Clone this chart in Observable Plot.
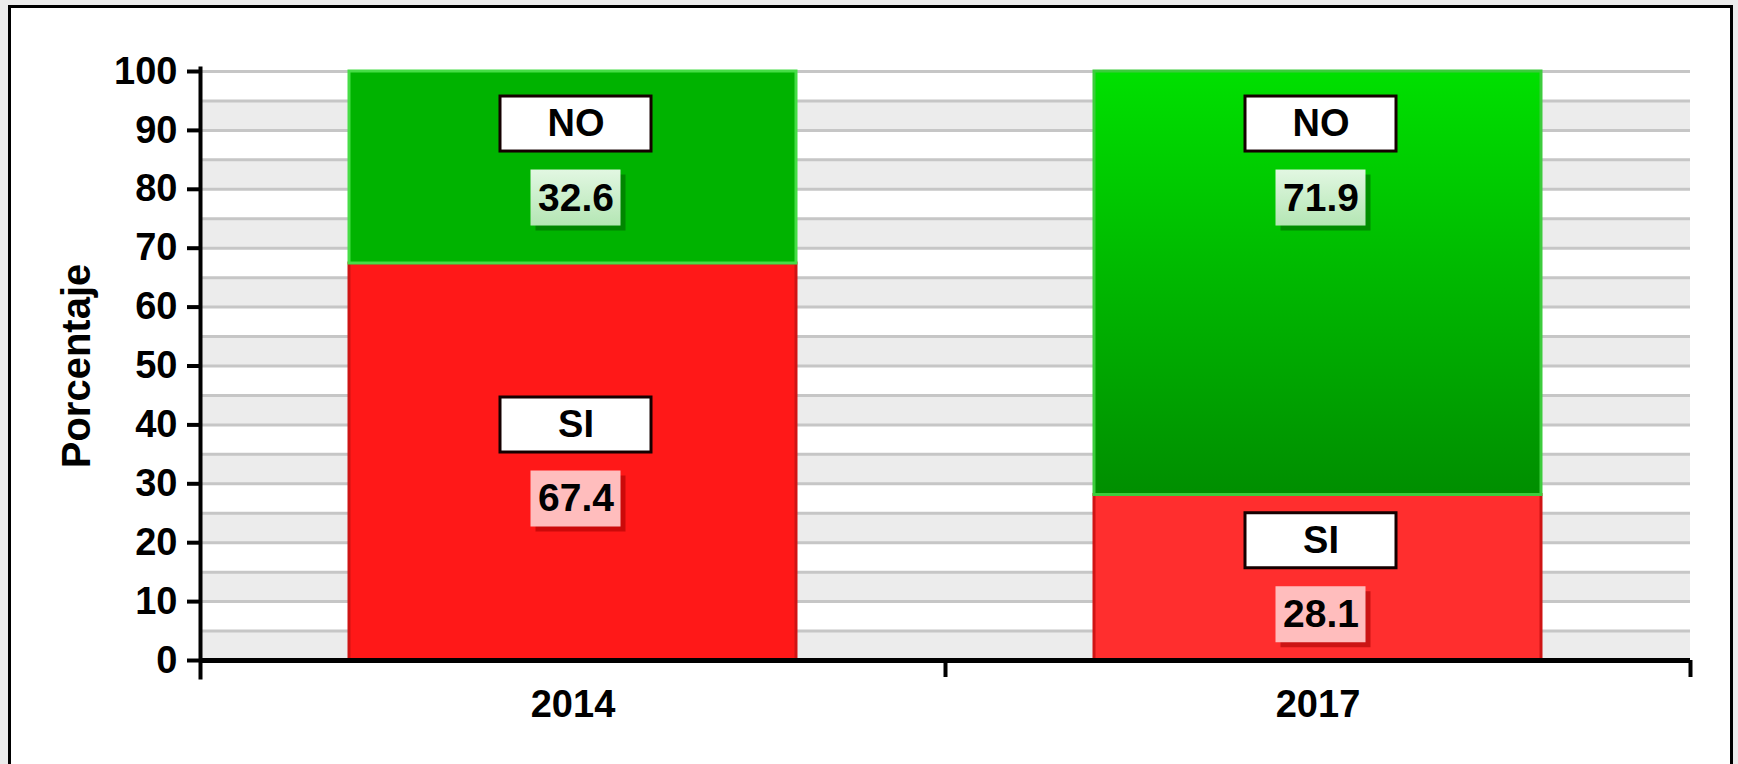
<!DOCTYPE html>
<html><head><meta charset="utf-8">
<script src="https://cdn.jsdelivr.net/npm/d3@7"></script>
<script src="https://cdn.jsdelivr.net/npm/@observablehq/plot@0.6"></script>
<style>
html,body{margin:0;padding:0;background:#ececec;width:1738px;height:764px;overflow:hidden}
#frame{position:absolute;left:8px;top:5px;width:1725px;height:800px;border:3px solid #000;background:#fff;box-sizing:border-box}
#chart{position:absolute;left:0;top:0}
</style></head><body>
<div id="frame"></div>
<div id="chart"></div>
<script>
// ---- data ----
const years = ["2014", "2017"];
const seriesNames = ["SI", "NO"];
const siValues = [67.4, 28.1];
const noValues = [32.6, 71.9];
const yTicks = [0, 10, 20, 30, 40, 50, 60, 70, 80, 90, 100];
const yLabel = "Porcentaje";

// ---- layout ----
const W = 1738, H = 764;
const mL = 200, mR = 48, mT = 71, mB = 104;
const xs = Plot.scale({x: {type: "band", domain: years, range: [mL, W - mR], paddingInner: 0.4, paddingOuter: 0.2}});
const bw = xs.bandwidth, step = xs.step;

const rows = years.flatMap((yr, i) => [
  {year: yr, series: seriesNames[0], value: siValues[i], y1: 0, y2: siValues[i]},
  {year: yr, series: seriesNames[1], value: noValues[i], y1: siValues[i], y2: siValues[i] + noValues[i]}
]);

const pairCenter = d => d.series === "NO" ? d.y2 - 15.2 : (d.y1 + d.y2) / 2;

const fillFor = d => {
  if (d.series === "NO") return d.year === "2017" ? "url(#gNo17)" : "#00b300";
  return d.year === "2017" ? "#ff2e2e" : "#ff1818";
};
const strokeFor = d => d.series === "NO" ? (d.year === "2017" ? "#3ccc3c" : "#46dd46") : "#cf1414";
const valFill = d => d.series === "NO" ? "url(#gValNo)" : "#ffbdbd";

const defs = () => {
  const s = d3.create("svg:defs");
  const g1 = s.append("linearGradient").attr("id", "gNo17").attr("x1", 0).attr("y1", 0).attr("x2", 0).attr("y2", 1);
  g1.append("stop").attr("offset", "0%").attr("stop-color", "#00e000");
  g1.append("stop").attr("offset", "100%").attr("stop-color", "#008e00");
  const g2 = s.append("linearGradient").attr("id", "gValNo").attr("x1", 0).attr("y1", 0).attr("x2", 0).attr("y2", 1);
  g2.append("stop").attr("offset", "0%").attr("stop-color", "#e2f7e2");
  g2.append("stop").attr("offset", "100%").attr("stop-color", "#b4e6b4");
  return s.node();
};

const catW = 151, catH = 55, valW = 90, valH = 56, gap = 37, shift = 3;
const font = "Liberation Sans, Arial, Helvetica, sans-serif";

const chart = Plot.plot({
  width: W, height: H,
  marginLeft: mL, marginRight: mR, marginTop: mT, marginBottom: mB,
  style: {background: "transparent", fontFamily: font, color: "#000", overflow: "visible"},
  x: {type: "band", domain: years, paddingInner: 0.4, paddingOuter: 0.2, axis: null},
  y: {domain: [0, 100], axis: null},
  color: {type: "identity"},
  marks: [
    defs,
    // alternating background bands
    Plot.barY(d3.range(0, 100, 10), {y1: d => d, y2: d => d + 5, fill: "#ececec"}),
    Plot.ruleY(d3.range(0, 101, 5), {stroke: "#c6c6c6", strokeWidth: 3}),
    // stacked bars
    Plot.barY(rows, {x: "year", y1: "y1", y2: "y2", fill: fillFor, stroke: strokeFor, strokeWidth: 3}),
    // axes lines
    Plot.ruleY([0], {stroke: "#000", strokeWidth: 5}),
    Plot.frame({anchor: "left", stroke: "#000", strokeWidth: 4, insetBottom: -17, insetTop: -3}),
    Plot.ruleX(years, {x: d => d, y1: () => 0, y2: () => 0, insetBottom: -17, dx: step / 2, stroke: "#000", strokeWidth: 4}),
    Plot.axisY({ticks: yTicks, tickSize: 13, tickPadding: 10, fontSize: 38, fontWeight: "bold", strokeWidth: 4, label: null, tickFormat: d => String(d)}),
    Plot.axisX({tickSize: 0, tickPadding: 30, fontSize: 38, fontWeight: "bold", label: null}),
    Plot.text([yLabel], {frameAnchor: "left", textAnchor: "middle", rotate: -90, dx: -123, fontSize: 40, fontWeight: "bold", lineAnchor: "middle"}),
    // category label boxes
    Plot.barY(rows, {x: "year", y1: pairCenter, y2: pairCenter, insetLeft: (bw - catW) / 2, insetRight: (bw - catW) / 2,
      insetTop: -catH / 2, insetBottom: -catH / 2, dx: shift, dy: -gap, fill: "#fff", stroke: "#150000", strokeWidth: 3}),
    Plot.text(rows, {x: "year", y: pairCenter, dx: shift, dy: -gap, text: "series", fontSize: 38, fontWeight: "bold", fill: "#000"}),
    // value boxes with shadow
    Plot.barY(rows, {x: "year", y1: pairCenter, y2: pairCenter, insetLeft: (bw - valW) / 2, insetRight: (bw - valW) / 2,
      insetTop: -valH / 2, insetBottom: -valH / 2, dx: shift + 5, dy: gap + 5, fill: d => d.series === "NO" ? "#006000" : "#a00000", fillOpacity: 0.55}),
    Plot.barY(rows, {x: "year", y1: pairCenter, y2: pairCenter, insetLeft: (bw - valW) / 2, insetRight: (bw - valW) / 2,
      insetTop: -valH / 2, insetBottom: -valH / 2, dx: shift, dy: gap, fill: valFill}),
    Plot.text(rows, {x: "year", y: pairCenter, dx: shift, dy: gap, text: d => d.value.toFixed(1), fontSize: 39, fontWeight: "bold", fill: "#000"})
  ]
});
document.getElementById("chart").appendChild(chart);
</script>
</body></html>
